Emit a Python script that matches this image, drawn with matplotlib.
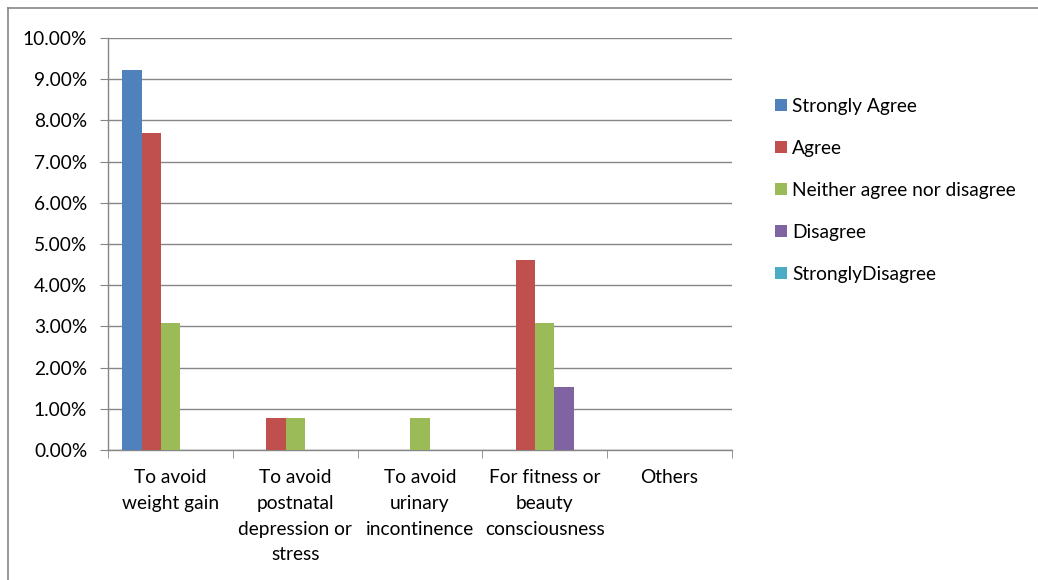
import numpy as np
import matplotlib.pyplot as plt
from matplotlib.lines import Line2D
from matplotlib.patches import Patch
from matplotlib.ticker import PercentFormatter

plt.rcParams['font.family'] = ['Lato', 'DejaVu Sans']

categories = ["To avoid\nweight gain", "To avoid\npostnatal\ndepression or\nstress",
              "To avoid\nurinary\nincontinence", "For fitness or\nbeauty\nconsciousness", "Others"]
series_names = ["Strongly Agree", "Agree", "Neither agree nor disagree", "Disagree", "StronglyDisagree"]
strongly_agree = [9.23, 0, 0, 0, 0]
agree = [7.69, 0.77, 0, 4.62, 0]
neither = [3.08, 0.77, 0.77, 3.08, 0]
disagree = [0, 0, 0, 1.54, 0]
strongly_disagree = [0, 0, 0, 0, 0]
colors = ["#4F81BD", "#C0504D", "#9BBB59", "#8064A2", "#4BACC6"]

values = [strongly_agree, agree, neither, disagree, strongly_disagree]
fs = 13.8

fig = plt.figure(figsize=(10.38, 5.8), dpi=100)
ax = fig.add_axes([108 / 1038, 1 - 450 / 580, (732 - 108) / 1038, (450 - 38) / 580])

grid_col = "#868686"
n = len(series_names)
bw = 1 / (n + 1.5)
x = np.arange(len(categories))
for i, (vals, c) in enumerate(zip(values, colors)):
    ax.bar(x + (i - (n - 1) / 2) * bw, vals, width=bw, color=c, zorder=3)

ax.set_xlim(-0.5, len(categories) - 0.5)
ax.set_ylim(0, 10)
ax.set_yticks(np.arange(0, 11, 1))
ax.yaxis.set_major_formatter(PercentFormatter(decimals=2))
ax.set_xticks(x)
ax.set_xticklabels(categories, fontsize=fs, va="top", linespacing=1.62)
ax.set_xticks(np.arange(-0.5, len(categories), 1), minor=True)
ax.tick_params(axis="x", which="major", length=0, pad=14)
ax.tick_params(axis="x", which="minor", length=6, color=grid_col, direction="out")
ax.tick_params(axis="y", length=6, color=grid_col, labelsize=fs, pad=9)
ax.grid(axis="y", color=grid_col, linewidth=1, zorder=0)
for s in ["top", "right"]:
    ax.spines[s].set_visible(False)
for s in ["left", "bottom"]:
    ax.spines[s].set_color(grid_col)
    ax.spines[s].set_linewidth(1)

handles = [Patch(facecolor=c, label=lab) for c, lab in zip(colors, series_names)]
fig.legend(handles=handles, loc="upper left", bbox_to_anchor=(775 / 1038, 1 - 98 / 580),
           frameon=False, fontsize=fs, handlelength=0.6, handleheight=0.6,
           handletextpad=0.3, labelspacing=1.3, borderaxespad=0, borderpad=0)

# outer chart border
fig.add_artist(Line2D([8 / 1038, 8 / 1038], [0, 1 - 8 / 580], color=grid_col, lw=1.2,
                      transform=fig.transFigure))
fig.add_artist(Line2D([8 / 1038, 1], [1 - 8 / 580, 1 - 8 / 580], color=grid_col, lw=1.2,
                      transform=fig.transFigure))

fig.savefig("out.png", dpi=100)
